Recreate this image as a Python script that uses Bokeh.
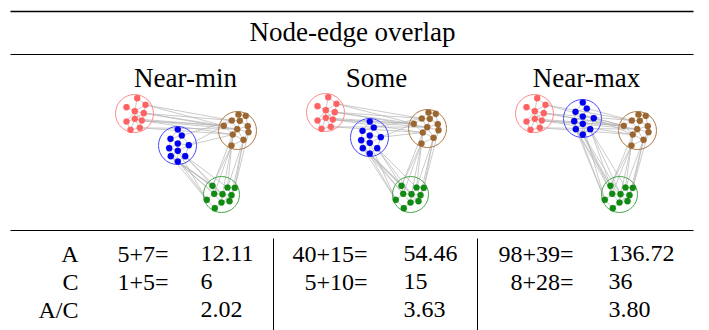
import math
from bokeh.plotting import figure
from bokeh.models import Range1d
from bokeh.core.properties import value
from bokeh.embed import file_html
from bokeh.resources import INLINE

# ---------------- data ----------------
title = "Node-edge overlap"
col_titles = ["Near-min", "Some", "Near-max"]
row_labels = ["A", "C", "A/C"]
sums = [["5+7=", "1+5=", ""], ["40+15=", "5+10=", ""], ["98+39=", "8+28=", ""]]
results = [["12.11", "6", "2.02"], ["54.46", "15", "3.63"], ["136.72", "36", "3.80"]]

# cluster centres of each drawing (red, blue, brown, green)
centre_x = [[134, 177, 237, 221], [325, 369, 427, 410], [534, 582, 637, 619]]
centre_y = [[113, 145, 130, 194], [112, 137, 128, 194], [113, 118, 130, 194]]
cluster_radius = [19, 19, 19, 18]

# node offsets inside each cluster
red_dx = [2.7, 11, -8, 0.3, 9.3, -8, 0.3, 7.3, -4, 5.3]
red_dy = [-15.3, -8.7, -6.3, -2.3, -0.3, 8, 5.3, 7, 16.3, 14.3]
blue_dx = [0.3, 4.3, -7, 0.3, 11.3, -8.3, 0.3, -6.7, 7.7, 0.3]
blue_dy = [-16, -10, -6.7, -2, -0.3, 2.7, 5.3, 10.7, 10.7, 16]
brown_dx = [1, 8.3, -5.7, 2.3, -13.7, 10.3, -0.3, 11, -4.7, 6, -6]
brown_dy = [-16, -14.7, -10, -9.7, -4.7, -4.3, -1.3, 1.7, 4, 9.3, 15]
green_dx = [-9, 6, 13.3, -7.3, 1, 10, -14.7, 0, 8, -6.7]
green_dy = [-8.7, -7, -6.7, -0.7, -0.3, 0.7, 5.3, 8, 6.7, 13.7]

# edges between clusters: (node i in first cluster, node j in second)
red_brown = [(1, 4), (4, 4), (4, 2), (7, 6), (9, 8), (6, 4), (1, 2), (7, 4), (9, 6), (4, 6), (7, 8)]
blue_green = [(7, 0), (8, 0), (9, 3), (6, 6), (8, 1), (9, 0), (7, 3), (5, 6), (8, 4), (9, 4), (7, 6)]
brown_green = [(10, 0), (8, 1), (9, 2), (10, 4), (9, 5), (7, 2), (8, 0), (10, 3), (9, 1)]
blue_brown = [(4, 4), (1, 2), (4, 8)]

# ---------------- styles ----------------
node_fill = ["#ff6262", "#0000f0", "#9c6630", "#108a10"]
ring_col = ["#ff8a8a", "#4a4aff", "#b07c48", "#4aa84a"]
FONT = value("Liberation Serif")

W, H = 709, 330
p = figure(width=W, height=H, output_backend="svg", toolbar_location=None,
           x_range=Range1d(0, W), y_range=Range1d(H, 0), min_border=0)
p.axis.visible = False
p.grid.visible = False
p.outline_line_color = None
p.background_fill_color = "white"
p.border_fill_color = "white"

offs_x = [red_dx, blue_dx, brown_dx, green_dx]
offs_y = [red_dy, blue_dy, brown_dy, green_dy]
inter = [(0, 2, red_brown), (1, 3, blue_green), (2, 3, brown_green), (1, 2, blue_brown)]

ex0, ey0, ex1, ey1 = [], [], [], []
nx, ny, nc = [], [], []
rx, ry, rr, rc = [], [], [], []
for g in range(3):
    pos = []
    for c in range(4):
        pts = [(centre_x[g][c] + dx, centre_y[g][c] + dy) for dx, dy in zip(offs_x[c], offs_y[c])]
        pos.append(pts)
        # edges inside the cluster between neighbouring nodes
        for i in range(len(pts)):
            for j in range(i + 1, len(pts)):
                if math.dist(pts[i], pts[j]) < 13.5:
                    ex0.append(pts[i][0]); ey0.append(pts[i][1])
                    ex1.append(pts[j][0]); ey1.append(pts[j][1])
        for x, y in pts:
            nx.append(x); ny.append(y); nc.append(node_fill[c])
        rx.append(centre_x[g][c]); ry.append(centre_y[g][c])
        rr.append(cluster_radius[c]); rc.append(ring_col[c])
    for a, b, pairs in inter:
        for i, j in pairs:
            ex0.append(pos[a][i][0]); ey0.append(pos[a][i][1])
            ex1.append(pos[b][j][0]); ey1.append(pos[b][j][1])

p.segment(x0=ex0, y0=ey0, x1=ex1, y1=ey1, line_color="#b4b4b4", line_width=0.7)
p.circle(x=rx, y=ry, radius=rr, fill_color=None, line_color=rc, line_width=1)
p.scatter(x=nx, y=ny, size=6.2, fill_color=nc, line_color=nc, line_width=0.3)

# rules
p.segment(x0=[10], y0=[11], x1=[693], y1=[11], line_color="black", line_width=1.6)
p.segment(x0=[10], y0=[54], x1=[693], y1=[54], line_color="black", line_width=1.0)
p.segment(x0=[10], y0=[230], x1=[693], y1=[230], line_color="black", line_width=1.2)
p.segment(x0=[273, 477], y0=[238, 238], x1=[273, 477], y1=[330, 330], line_color="black", line_width=1.0)

# header texts
p.text(x=[352], y=[31], text=[title], text_font=FONT, text_font_size="27px",
       text_align="center", text_baseline="alphabetic", text_color="black")
p.text(x=[185, 376, 586], y=[77, 77, 77], text=col_titles, text_font=FONT, text_font_size="27px",
       text_align="center", text_baseline="alphabetic", text_color="black")

# table
row_y = [253, 281, 309]
sum_right = [168, 367, 573]
res_left = [200, 403, 608]
p.text(x=[78] * 3, y=row_y, text=row_labels, text_font=FONT, text_font_size="24px",
       text_align="right", text_baseline="alphabetic", text_color="black")
for g in range(3):
    p.text(x=[sum_right[g]] * 3, y=row_y, text=sums[g], text_font=FONT, text_font_size="24px",
           text_align="right", text_baseline="alphabetic", text_color="black")
    p.text(x=[res_left[g]] * 3, y=row_y, text=results[g], text_font=FONT, text_font_size="24px",
           text_align="left", text_baseline="alphabetic", text_color="black")

open("out.html", "w").write(file_html(p, INLINE))
